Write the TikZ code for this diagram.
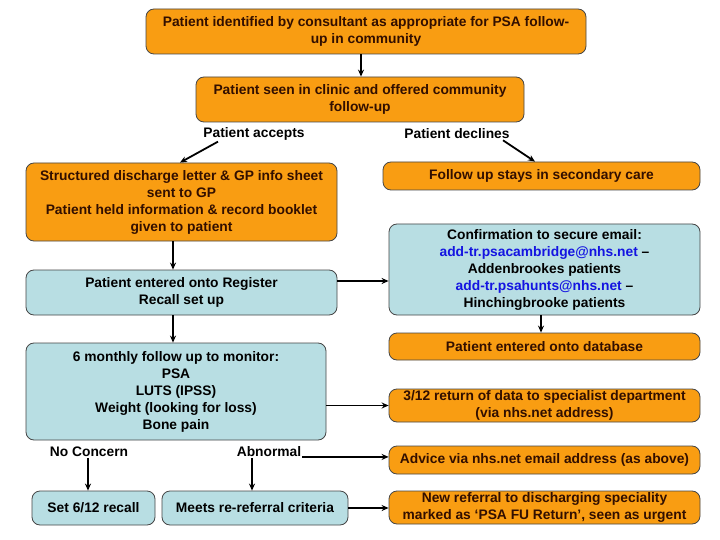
\documentclass[tikz,border=0pt]{standalone}
\usepackage{fontspec}
\setmainfont{Liberation Sans}
\usetikzlibrary{arrows.meta}
\definecolor{orfill}{RGB}{249,157,18}
\definecolor{blfill}{RGB}{184,222,227}
\definecolor{ortext}{RGB}{50,15,0}
\definecolor{linkblue}{RGB}{20,20,225}
\definecolor{edge}{RGB}{70,70,70}
\tikzset{
  box/.style={draw=edge, line width=0.8pt, rounded corners=8pt, align=center, font=\bfseries\fontsize{13.8}{17}\selectfont, inner sep=0pt},
  obox/.style={box, fill=orfill, text=ortext},
  bbox/.style={box, fill=blfill, text=black},
  lbl/.style={font=\bfseries\fontsize{13.8}{16}\selectfont, inner sep=1pt},
  arr/.style={line width=1.8pt, -{Stealth[length=7pt,width=6pt]}},
}
\begin{document}
\begin{tikzpicture}[x=1pt,y=-1pt]
\useasboundingbox[fill=white] (0,0) rectangle (720,540);
\node[obox, minimum width=440, minimum height=45] (top) at (366,31.5) {Patient identified by consultant as appropriate for PSA follow-\\up in community};
\node[obox, minimum width=328, minimum height=45] (seen) at (360,99.5) {Patient seen in clinic and offered community\\follow-up};
\node[lbl] (acc) at (254,134) {Patient accepts};
\node[lbl] (dec) at (457,134) {Patient declines};
\node[obox, minimum width=311, minimum height=78] (disc) at (181.5,202) {Structured discharge letter \& GP info sheet\\sent to GP\\Patient held information \& record booklet\\given to patient};
\node[obox, minimum width=317, minimum height=28] (fus) at (541.5,176) {Follow up stays in secondary care};
\node[bbox, minimum width=311, minimum height=45] (reg) at (181.5,292.5) {Patient entered onto Register\\Recall set up};
\node[bbox, minimum width=311, minimum height=91] (conf) at (544.5,269.5) {Confirmation to secure email:\\\textcolor{linkblue}{add-tr.psacambridge@nhs.net} --\\Addenbrookes patients\\\textcolor{linkblue}{add-tr.psahunts@nhs.net} --\\Hinchingbrooke patients};
\node[obox, minimum width=311, minimum height=27] (db) at (544.5,346.5) {Patient entered onto database};
\node[bbox, minimum width=300, minimum height=97] (fu) at (176,391.5) {6 monthly follow up to monitor:\\PSA\\LUTS (IPSS)\\Weight (looking for loss)\\Bone pain};
\node[obox, minimum width=311, minimum height=33] (ret) at (544.5,405.5) {3/12 return of data to specialist department\\(via nhs.net address)};
\node[lbl] (nc) at (89,452) {No Concern};
\node[lbl] (abn) at (269,452) {Abnormal};
\node[obox, minimum width=311, minimum height=28] (adv) at (544.5,460) {Advice via nhs.net email address (as above)};
\node[bbox, minimum width=123, minimum height=34] (rec) at (93.5,508) {Set 6/12 recall};
\node[bbox, minimum width=186, minimum height=34] (mrc) at (255,508) {Meets re-referral criteria};
\node[obox, minimum width=311, minimum height=33] (nr) at (544.5,507.5) {New referral to discharging speciality\\marked as `PSA FU Return', seen as urgent};

\draw[arr] (top.south -| 361,0) -- (seen.north -| 361,0);
\draw[arr] (acc.south -| 218,0) -- (disc.north -| 180,0);
\draw[arr] (dec.south -| 503,0) -- (fus.north -| 535,0);
\draw[arr] (disc.south -| 173,0) -- (reg.north -| 173,0);
\draw[arr] (reg.east |- 0,281) -- (conf.west |- 0,281);
\draw[arr] (conf.south -| 541,0) -- (db.north -| 541,0);
\draw[arr] (reg.south -| 173,0) -- (fu.north -| 173,0);
\draw[arr] (fu.east |- ret.west) -- (ret.west);
\draw[arr] (abn.base east) -- (abn.base east -| adv.west);
\draw[arr] (nc.south -| 88,0) -- (rec.north -| 88,0);
\draw[arr] (abn.south -| 252,0) -- (mrc.north -| 252,0);
\draw[arr] (mrc.east) -- (mrc.east -| nr.west);
\end{tikzpicture}
\end{document}
